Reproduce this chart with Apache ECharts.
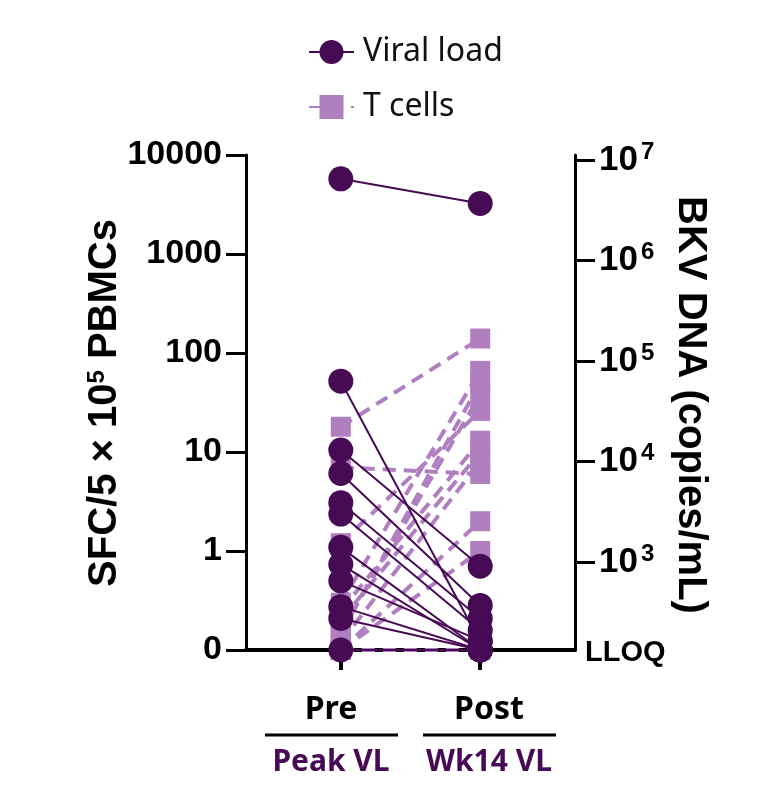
<!DOCTYPE html>
<html>
<head>
<meta charset="utf-8">
<script src="https://cdn.jsdelivr.net/npm/echarts@6/dist/echarts.min.js"></script>
<style>html,body{margin:0;padding:0;background:#fff;}#c{width:762px;height:805px;}</style>
</head>
<body>
<div id="c"></div>
<script>
// ---- data ----
const categories = ['Pre', 'Post'];
const subLabels = ['Peak VL', 'Wk14 VL'];
// Viral load (BKV DNA copies/mL); 0 = below LLOQ
const vlPre  = [6.5e6, 6.3e4, 1.3e4, 7.6e3, 3.9e3, 3.0e3, 1.4e3, 9.5e2, 6.5e2, 3.6e2, 2.75e2, 0];
const vlPost = [3.7e6, 1.6e2, 9.1e2, 3.7e2, 2.75e2, 2.1e2, 0, 0, 1.65e2, 0, 0, 0];
// T cells (SFC / 5x10^5 PBMCs); 0 = none
const tPre  = [18, 7, 1.2, 0.3, 0.25, 0.2, 0.15, 0.15, 0.12, 0, 0, 0];
const tPost = [140, 6, 26, 66, 13, 10, 50, 38, 8, 2, 1, 0];
const leftTicks = ['0', '1', '10', '100', '1000', '10000'];
const rightTickExps = [3, 4, 5, 6, 7];
const LLOQ_LOG = 2.125;

const DARK = '#470a55';
const LIGHT = '#b07fbf';

const tLog = v => v > 0 ? Math.log10(v) : -1;
const vLog = v => v > 0 ? Math.max(Math.log10(v), LLOQ_LOG) : LLOQ_LOG;

const series = [];
tPre.forEach((v, i) => {
  series.push({
    name: 'T cells', type: 'line', xAxisIndex: 0, yAxisIndex: 0, z: 2,
    data: [[0, tLog(v)], [1, tLog(tPost[i])]],
    symbol: 'rect', symbolSize: 20,
    itemStyle: { color: LIGHT },
    lineStyle: { color: LIGHT, width: 4, type: [13, 8] },
    animation: false, silent: true
  });
});
vlPre.forEach((v, i) => {
  series.push({
    name: 'Viral load', type: 'line', xAxisIndex: 0, yAxisIndex: 1, z: 3,
    data: [[0, vLog(v)], [1, vLog(vlPost[i])]],
    symbol: 'circle', symbolSize: 25,
    itemStyle: { color: DARK },
    lineStyle: { color: DARK, width: 2 },
    animation: false, silent: true
  });
});

const chart = echarts.init(document.getElementById('c'), null, { renderer: 'canvas' });
const tickFont = { fontFamily: 'Liberation Sans, Arial, sans-serif', fontWeight: 'bold', color: '#000' };

const graphics = [];
const labelX = [331, 489];
categories.forEach((c, i) => {
  graphics.push({ type: 'text', x: labelX[i], y: 710, style: { text: c, fontFamily: 'Noto Sans', fontWeight: 'bold', fontSize: 32, fill: '#000', align: 'center', verticalAlign: 'middle' } });
  graphics.push({ type: 'rect', shape: { x: labelX[i] - 66, y: 733.5, width: 133, height: 3 }, style: { fill: '#000' } });
  graphics.push({ type: 'text', x: labelX[i], y: 762, style: { text: subLabels[i], fontFamily: 'Noto Sans', fontWeight: 'bold', fontSize: 30, fill: DARK, align: 'center', verticalAlign: 'middle' } });
});
graphics.push({
  type: 'text', x: 105, y: 403, rotation: Math.PI / 2,
  style: {
    text: '{a|SFC/5 × 10}{s|5}{a| PBMCs}', align: 'center', verticalAlign: 'middle',
    rich: {
      a: { fontFamily: 'Liberation Sans', fontWeight: 'bold', fontSize: 40, lineHeight: 44, fill: '#000' },
      s: { fontFamily: 'Liberation Sans', fontWeight: 'bold', fontSize: 24, lineHeight: 44, verticalAlign: 'top', padding: [2, 0, 0, 0], fill: '#000' }
    }
  }
});
graphics.push({
  type: 'text', x: 690, y: 405, rotation: -Math.PI / 2,
  style: { text: 'BKV DNA (copies/mL)', fontFamily: 'Liberation Sans', fontWeight: 'bold', fontSize: 40, fill: '#000', align: 'center', verticalAlign: 'middle' }
});

chart.setOption({
  animation: false,
  backgroundColor: '#fff',
  grid: { left: 246, right: 187, top: 155, bottom: 155, containLabel: false },
  legend: {
    orient: 'vertical', left: 303, top: 31, itemWidth: 45, itemHeight: 30, itemGap: 23,
    data: ['Viral load', 'T cells'],
    textStyle: { fontFamily: 'Noto Sans', fontSize: 32, color: '#111', padding: [0, 0, 0, 4] }
  },
  xAxis: {
    type: 'value', min: -0.68, max: 1.68,
    splitLine: { show: false },
    axisLine: { onZero: false, lineStyle: { color: '#000', width: 4 } },
    axisTick: { show: true, customValues: [0, 1], length: 20, lineStyle: { color: '#000', width: 4 } },
    axisLabel: { show: false }
  },
  yAxis: [
    {
      type: 'value', min: -1, max: 4, interval: 1, position: 'left',
      splitLine: { show: false },
      axisLine: { show: true, onZero: false, lineStyle: { color: '#000', width: 3 } },
      axisTick: { show: true, length: 20, lineStyle: { color: '#000', width: 3 } },
      axisLabel: Object.assign({ fontSize: 34, margin: 24, formatter: v => leftTicks[Math.round(v) + 1] }, tickFont)
    },
    {
      type: 'value', min: LLOQ_LOG, max: 7.05, position: 'right',
      splitLine: { show: false },
      axisLine: { show: true, onZero: false, lineStyle: { color: '#000', width: 3 } },
      axisTick: { show: true, customValues: rightTickExps, length: 20, lineStyle: { color: '#000', width: 3 } },
      axisLabel: {
        customValues: [LLOQ_LOG].concat(rightTickExps), margin: 24,
        formatter: v => Math.abs(v - LLOQ_LOG) < 1e-6 ? '{l|LLOQ}' : '{b|10}{s|' + Math.round(v) + '}',
        rich: {
          l: Object.assign({ fontSize: 29, padding: [6, 0, 0, -14] }, tickFont),
          b: Object.assign({ fontSize: 35, lineHeight: 40 }, tickFont),
          s: Object.assign({ fontSize: 24, lineHeight: 40, verticalAlign: 'top', padding: [0, 0, 0, 3] }, tickFont)
        }
      }
    }
  ],
  graphic: graphics,
  series: series
});
</script>
</body>
</html>
